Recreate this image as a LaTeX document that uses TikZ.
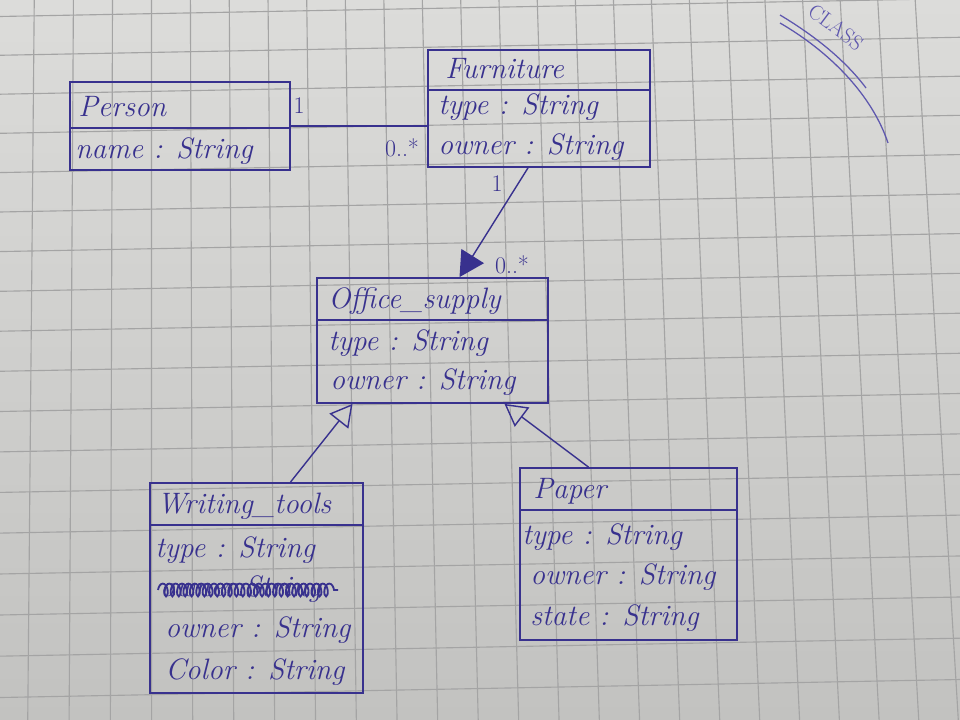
\documentclass[tikz,border=0pt]{standalone}
\usetikzlibrary{arrows.meta,calc,fit,decorations.pathmorphing}
\definecolor{ink}{HTML}{38318E}
\definecolor{inklight}{HTML}{5E57AE}
\definecolor{papertop}{HTML}{DCDCDA}
\definecolor{paperbot}{HTML}{C2C2C0}
\definecolor{gridline}{HTML}{A4A4A4}
\begin{document}
\begin{tikzpicture}[x=0.025cm,y=-0.025cm,
  classbox/.style={draw=ink, line width=1.3pt, inner sep=0pt},
  divider/.style={draw=ink, line width=1.1pt},
  member/.style={anchor=base west, inner sep=0pt, text=ink,
    font=\fontsize{21}{24}\selectfont\itshape},
  mult/.style={inner sep=0pt, text=ink, font=\fontsize{17}{20}\selectfont},
  assoc/.style={draw=ink, line width=1pt},
  navarrow/.style={assoc, -{Triangle[length=0.62cm, width=0.66cm]}},
  genarrow/.style={assoc, -{Triangle[open, length=0.55cm, width=0.6cm, line width=1pt]}},
  gridstroke/.style={draw=gridline, line width=0.8pt},
]
\useasboundingbox (0,0) rectangle (960,720);

% squared paper
\fill[top color=papertop, bottom color=paperbot] (0,0) rectangle (960,720);
\begin{scope}
  \clip (0,0) rectangle (960,720);
  \foreach \k in {0,...,23} {
    \pgfmathsetmacro\xo{31+40.3*\k-0.04*\k*\k}
    \pgfmathsetmacro\xt{\xo-(\xo-150)*0.0274}
    \pgfmathsetmacro\xb{\xo+(\xo-150)*0.0274}
    \draw[gridstroke] (\xt,0) -- (\xb,720);
  }
  \foreach \k in {-5,...,13} {
    \pgfmathsetmacro\yl{212+39.5*\k+0.08*\k*\k}
    \draw[gridstroke] (0,\yl) -- (960,\yl-18);
  }
\end{scope}

% class boxes
\coordinate (p1) at (70,82);   \coordinate (p2) at (290,170);
\coordinate (f1) at (428,50);  \coordinate (f2) at (650,167);
\coordinate (o1) at (317,278); \coordinate (o2) at (548,403);
\coordinate (w1) at (150,483); \coordinate (w2) at (363,693);
\coordinate (q1) at (520,468); \coordinate (q2) at (737,640);

\node[classbox, fit=(p1)(p2)] (person) {};
\node[classbox, fit=(f1)(f2)] (furniture) {};
\node[classbox, fit=(o1)(o2)] (office) {};
\node[classbox, fit=(w1)(w2)] (writing) {};
\node[classbox, fit=(q1)(q2)] (paper) {};

\draw[divider] (person.west |- 0,128) -- (person.east |- 0,128);
\draw[divider] (furniture.west |- 0,90) -- (furniture.east |- 0,90);
\draw[divider] (office.west |- 0,320) -- (office.east |- 0,320);
\draw[divider] (writing.west |- 0,525) -- (writing.east |- 0,525);
\draw[divider] (paper.west |- 0,510) -- (paper.east |- 0,510);

% Person
\node[member] (pname) at (78,117) {Person};
\node[member] (pattr) at (75,159) {name : String};

% Furniture
\node[member] (fname) at (445,79) {Furniture};
\node[member] (ftype) at (438,115) {type : String};
\node[member] (fown) at (438,155) {owner : String};

% Office_supply
\node[member] (oname) at (328,309) {Office\_supply};
\node[member] (otype) at (328,351) {type : String};
\node[member] (oown) at (330,390) {owner : String};

% Writing_tools
\node[member] (wname) at (157,514) {Writing\_tools};
\node[member] (wtype) at (155,557) {type : String};
\node[member] (wcross) at (160,597) {owner:String};
\draw[ink, line width=1.3pt, decorate,
  decoration={coil, amplitude=0.16cm, segment length=0.16cm}]
  (158,590) -- (338,590);
\node[member] (wown) at (165,637) {owner : String};
\node[member] (wcol) at (165,679) {Color : String};

% Paper
\node[member] (qname) at (533,499) {Paper};
\node[member] (qtype) at (522,544) {type : String};
\node[member] (qown) at (530,584) {owner : String};
\node[member] (qstate) at (530,625) {state : String};

% associations
\draw[assoc] (person.east) -- (furniture.west |- person.east);
\node[mult] (m1) at (299,106) {1};
\node[mult] (m2) at (402,148) {0..*};

\draw[navarrow] ($(furniture.south)+(-11,0)$) -- ($(office.north)+(27,0)$);
\node[mult] (m3) at (497,184) {1};
\node[mult] (m4) at (512,265) {0..*};

% generalizations
\draw[genarrow] ($(writing.north)+(34,0)$) -- ($(office.south)+(-80,0)$);
\draw[genarrow] ($(paper.north)+(-40,0)$) -- ($(office.south)+(72,0)$);

% corner title
\node[inner sep=0pt, text=inklight, rotate=-37,
  font=\fontsize{15}{18}\selectfont] (title) at (836,27) {CLASS};
\draw[inklight, line width=0.9pt] (780,15) .. controls (815,36) and (845,60) .. (866,88);
\draw[inklight, line width=0.9pt] (780,23) .. controls (830,52) and (872,95) .. (888,143);
\end{tikzpicture}
\end{document}
